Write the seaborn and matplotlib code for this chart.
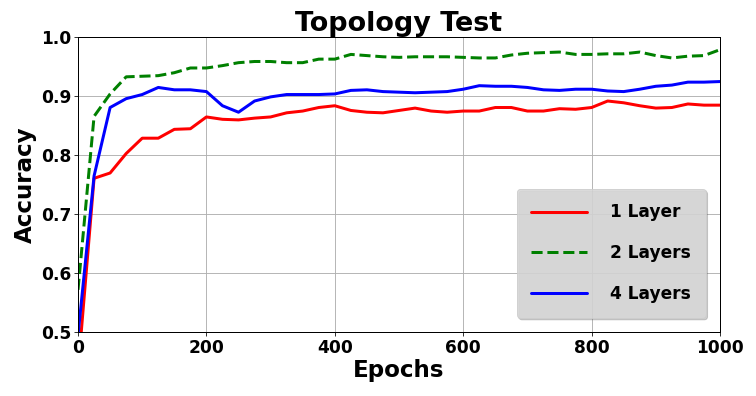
import matplotlib
matplotlib.use("Agg")
import pandas as pd
import seaborn as sns
import matplotlib.pyplot as plt

epochs = list(range(0, 1001, 25))

acc_1layer = [0.435, 0.761, 0.770, 0.803, 0.829, 0.829, 0.844, 0.845, 0.865, 0.861,
              0.860, 0.863, 0.865, 0.872, 0.875, 0.881, 0.884, 0.876, 0.873, 0.872,
              0.876, 0.880, 0.875, 0.873, 0.875, 0.875, 0.881, 0.881, 0.875, 0.875,
              0.879, 0.878, 0.881, 0.892, 0.889, 0.884, 0.880, 0.881, 0.887, 0.885,
              0.885]
acc_2layers = [0.572, 0.866, 0.904, 0.933, 0.934, 0.935, 0.940, 0.948, 0.948, 0.952,
               0.957, 0.959, 0.959, 0.957, 0.957, 0.963, 0.963, 0.971, 0.969, 0.967,
               0.966, 0.967, 0.967, 0.967, 0.966, 0.965, 0.965, 0.970, 0.973, 0.974,
               0.975, 0.971, 0.971, 0.972, 0.972, 0.975, 0.969, 0.965, 0.968, 0.969,
               0.979]
acc_4layers = [0.495, 0.765, 0.881, 0.896, 0.903, 0.915, 0.911, 0.911, 0.908, 0.884,
               0.873, 0.892, 0.899, 0.903, 0.903, 0.903, 0.904, 0.910, 0.911, 0.908,
               0.907, 0.906, 0.907, 0.908, 0.912, 0.918, 0.917, 0.917, 0.915, 0.911,
               0.910, 0.912, 0.912, 0.909, 0.908, 0.912, 0.917, 0.919, 0.924, 0.924,
               0.925]

labels = ["1 Layer", "2 Layers", "4 Layers"]

df = pd.DataFrame({
    "Epochs": epochs * 3,
    "Accuracy": acc_1layer + acc_2layers + acc_4layers,
    "model": [labels[0]] * len(epochs) + [labels[1]] * len(epochs) + [labels[2]] * len(epochs),
})

sns.set_style("ticks")
plt.rcParams["font.family"] = ["DejaVu Sans"]
plt.rcParams["font.weight"] = "bold"
plt.rcParams["text.color"] = "black"
plt.rcParams["axes.labelcolor"] = "black"
plt.rcParams["xtick.color"] = "black"
plt.rcParams["ytick.color"] = "black"

fig = plt.figure(figsize=(10.5, 5.5), dpi=72)
ax = fig.add_axes([0.1032, 0.1609, 0.8492, 0.7449])

sns.lineplot(data=df, x="Epochs", y="Accuracy", hue="model", style="model",
             palette={labels[0]: "red", labels[1]: "green", labels[2]: "blue"},
             dashes={labels[0]: "", labels[1]: (3.7, 1.6), labels[2]: ""},
             linewidth=3, ax=ax)

ax.set_xlim(0, 1000)
ax.set_ylim(0.5, 1.0)
ax.set_xticks([0, 200, 400, 600, 800, 1000])
ax.set_yticks([0.5, 0.6, 0.7, 0.8, 0.9, 1.0])
ax.set_yticklabels(["0.5", "0.6", "0.7", "0.8", "0.9", "1.0"])
ax.tick_params(labelsize=17, direction="out", length=4, color="black", pad=3)
for lab in ax.get_xticklabels() + ax.get_yticklabels():
    lab.set_fontweight("bold")
ax.grid(True, color="#b0b0b0", linewidth=0.9)
for s in ax.spines.values():
    s.set_color("black")
    s.set_linewidth(1.0)

ax.set_title("Topology Test", fontsize=27, fontweight="bold", pad=4)
ax.set_xlabel("Epochs", fontsize=23, fontweight="bold", labelpad=2)
ax.set_ylabel("Accuracy", fontsize=23, fontweight="bold", labelpad=4)

leg = ax.legend(loc="lower right", shadow={"color": "0.4", "alpha": 0.3},
                fancybox=True, facecolor="#d8d8d8", edgecolor="0.8",
                framealpha=0.85, labelspacing=1.35, handlelength=3.3,
                handletextpad=1.35, borderpad=0.85, borderaxespad=0.85,
                prop={"size": 17, "weight": "bold"})

fig.savefig("out.png", dpi=72)
